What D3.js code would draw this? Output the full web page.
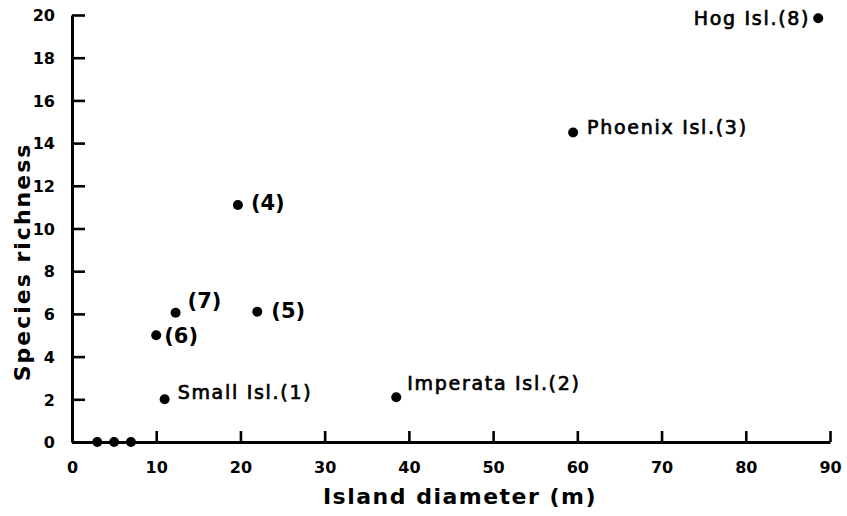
<!DOCTYPE html>
<html>
<head>
<meta charset="utf-8">
<script src="https://cdn.jsdelivr.net/npm/d3@7"></script>
<style>
  html, body { margin: 0; padding: 0; background: #fff; }
  svg { display: block; }
  text { fill: #000; font-family: "DejaVu Sans", "Noto Sans", sans-serif; }
</style>
</head>
<body>
<svg id="chart" width="847" height="516"></svg>
<script>
// Island size vs. species richness
const diameter = [3, 5, 7, 11, 38.5, 59.5, 19.7, 22, 10, 12.3, 88.6];
const richness = [0, 0, 0, 2, 2.1, 14.5, 11.1, 6.1, 5, 6.05, 19.85];
const pointLabels = ["", "", "", "Small Isl.(1)", "Imperata Isl.(2)", "Phoenix Isl.(3)",
  "(4)", "(5)", "(6)", "(7)", "Hog Isl.(8)"];
const xTicks = [0, 10, 20, 30, 40, 50, 60, 70, 80, 90];
const yTicks = [0, 2, 4, 6, 8, 10, 12, 14, 16, 18, 20];

const points = diameter.map((d, i) => ({ x: d, y: richness[i], label: pointLabels[i] }));

// where each label sits relative to its dot: [dx, dy, anchor]
const placement = {
  "Small Isl.(1)": [13, 0, "start"],
  "Imperata Isl.(2)": [11, -7, "start"],
  "Phoenix Isl.(3)": [14, 2, "start"],
  "(4)": [13, 5, "start"],
  "(5)": [14, 6, "start"],
  "(6)": [8, 8, "start"],
  "(7)": [12, -5, "start"],
  "Hog Isl.(8)": [-8, 7, "end"]
};

const svg = d3.select("#chart");
const x = d3.scaleLinear().domain([0, 90]).range([72, 830]);
const y = d3.scaleLinear().domain([0, 20]).range([442, 15]);

// axes: ticks point inward, heavy pen lines
const xAxis = svg.append("g").attr("transform", `translate(0,${y(0)})`)
  .call(d3.axisBottom(x).tickValues(xTicks).tickSizeInner(-11).tickSizeOuter(0).tickPadding(20));
const yAxis = svg.append("g").attr("transform", `translate(${x(0)},0)`)
  .call(d3.axisLeft(y).tickValues(yTicks).tickSizeInner(-13).tickSizeOuter(0).tickPadding(17));

[xAxis, yAxis].forEach(g => {
  g.select(".domain").attr("stroke", "#000").attr("stroke-width", 3);
  g.selectAll(".tick line").attr("stroke", "#000").attr("stroke-width", 2.6);
  g.selectAll(".tick text")
    .style("font-family", "'DejaVu Sans', sans-serif")
    .style("font-weight", "bold")
    .style("font-size", "16px")
    .attr("fill", "#000");
});
yAxis.selectAll(".tick text").attr("dy", "0.36em");

// points
svg.append("g").selectAll("circle").data(points).join("circle")
  .attr("cx", d => x(d.x))
  .attr("cy", d => y(d.y))
  .attr("r", 5)
  .attr("fill", "#000");

// point labels: island names in a lighter, spaced lettering; numbers bold
const isNumber = d => d.label.startsWith("(");
svg.append("g").selectAll("text").data(points.filter(d => d.label)).join("text")
  .attr("x", d => x(d.x) + placement[d.label][0])
  .attr("y", d => y(d.y) + placement[d.label][1])
  .attr("text-anchor", d => placement[d.label][2])
  .style("font-size", d => isNumber(d) ? "21px" : "19px")
  .style("font-weight", d => isNumber(d) ? "bold" : "normal")
  .style("letter-spacing", d => isNumber(d) ? "0px" : "1.7px")
  .style("stroke", "#000").style("stroke-width", d => isNumber(d) ? 0 : 0.7)
  .text(d => d.label);

// axis titles
svg.append("text")
  .attr("x", 460).attr("y", 504)
  .attr("text-anchor", "middle")
  .style("font-size", "22px").style("font-weight", "bold")
  .style("letter-spacing", "1.5px")
  .text("Island diameter  (m)");

svg.append("text")
  .attr("transform", `translate(30,262) rotate(-90)`)
  .attr("text-anchor", "middle")
  .style("font-size", "22px").style("font-weight", "bold")
  .style("letter-spacing", "2px")
  .text("Species  richness");
</script>
</body>
</html>
